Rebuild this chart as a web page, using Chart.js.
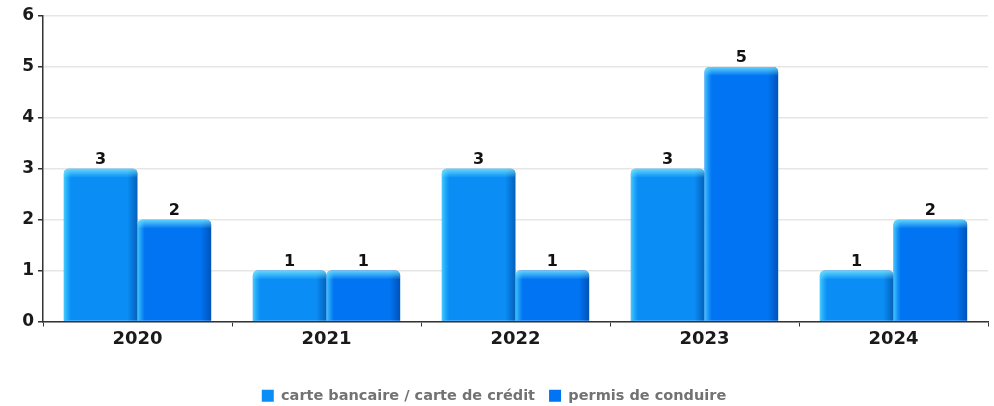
<!DOCTYPE html>
<html>
<head>
<meta charset="utf-8">
<script src="https://cdn.jsdelivr.net/npm/chart.js@4/dist/chart.umd.min.js"></script>
<style>
  html, body { margin: 0; padding: 0; background: #fff; }
  #wrap { width: 994px; height: 406px; }
</style>
</head>
<body>
<div id="wrap"><canvas id="chart" width="994" height="406"></canvas></div>
<script>
const years = ["2020", "2021", "2022", "2023", "2024"];
const seriesNames = ["carte bancaire / carte de crédit", "permis de conduire"];
const carteBancaire = [3, 1, 3, 3, 1];
const permisConduire = [2, 1, 1, 5, 2];
const yTicks = [0, 1, 2, 3, 4, 5, 6];

const FONT = "'DejaVu Sans', Verdana, sans-serif";

// soft bevel on each bar: light left/top edge, darker right edge
const bevel = {
  id: "bevel",
  afterDatasetsDraw(chart) {
    const ctx = chart.ctx;
    chart.data.datasets.forEach((ds, di) => {
      chart.getDatasetMeta(di).data.forEach((bar) => {
        const left = bar.x - bar.width / 2;
        const right = bar.x + bar.width / 2;
        const top = bar.y;
        const bottom = bar.base;
        ctx.save();
        ctx.beginPath();
        ctx.roundRect(left, top, right - left, bottom - top, [5, 5, 0, 0]);
        ctx.clip();
        const h = ctx.createLinearGradient(left, 0, right, 0);
        h.addColorStop(0, "rgba(90,225,255,0.75)");
        h.addColorStop(0.1, "rgba(60,200,255,0.0)");
        h.addColorStop(0.86, "rgba(0,40,120,0.0)");
        h.addColorStop(1, "rgba(0,40,110,0.45)");
        ctx.fillStyle = h;
        ctx.fillRect(left, top, right - left, bottom - top);
        const v = ctx.createLinearGradient(0, top, 0, top + 9);
        v.addColorStop(0, "rgba(120,235,255,0.8)");
        v.addColorStop(1, "rgba(120,235,255,0)");
        ctx.fillStyle = v;
        ctx.fillRect(left, top, right - left, 9);
        ctx.restore();
      });
    });
  }
};

// value above each bar
const valueLabels = {
  id: "valueLabels",
  afterDatasetsDraw(chart) {
    const ctx = chart.ctx;
    ctx.save();
    ctx.font = "bold 16px " + FONT;
    ctx.fillStyle = "#111";
    ctx.textAlign = "center";
    ctx.textBaseline = "alphabetic";
    chart.data.datasets.forEach((ds, di) => {
      chart.getDatasetMeta(di).data.forEach((bar, i) => {
        ctx.fillText(String(ds.data[i]), bar.x, bar.y - 5);
      });
    });
    ctx.restore();
  }
};

new Chart(document.getElementById("chart"), {
  type: "bar",
  data: {
    labels: years,
    datasets: [
      {
        label: seriesNames[0],
        data: carteBancaire,
        backgroundColor: "#0a8ef6",
        borderRadius: { topLeft: 5, topRight: 5 },
        borderSkipped: "bottom"
      },
      {
        label: seriesNames[1],
        data: permisConduire,
        backgroundColor: "#0074f2",
        borderRadius: { topLeft: 5, topRight: 5 },
        borderSkipped: "bottom"
      }
    ]
  },
  options: {
    responsive: false,
    animation: false,
    events: [],
    datasets: { bar: { categoryPercentage: 0.78, barPercentage: 1 } },
    layout: { padding: { left: 0, right: 6, top: 16, bottom: -7 } },
    plugins: {
      tooltip: { enabled: false },
      legend: {
        position: "bottom",
        labels: {
          boxWidth: 12,
          boxHeight: 12,
          padding: 14,
          color: "#727272",
          font: { family: FONT, size: 14.5, weight: "bold" }
        }
      }
    },
    scales: {
      x: {
        grid: { display: true, drawOnChartArea: false, offset: true, tickLength: 5, color: "#333", tickColor: "#333" },
        border: { display: true, color: "#333", width: 1.5 },
        ticks: { color: "#1a1a1a", padding: 2, font: { family: FONT, size: 18, weight: "bold" } },
        afterFit(scale) { scale.height = 53; }
      },
      y: {
        min: 0,
        max: 6,
        afterBuildTicks(scale) { scale.ticks = yTicks.map((v) => ({ value: v })); },
        grid: { color: "#e6e6e6", lineWidth: 1.5, tickLength: 5, tickColor: "#333" },
        border: { display: true, color: "#333", width: 1.5 },
        ticks: { color: "#1a1a1a", padding: 4, font: { family: FONT, size: 17, weight: "bold" } },
        afterFit(scale) { scale.width = 43; }
      }
    }
  },
  plugins: [bevel, valueLabels]
});
</script>
</body>
</html>
